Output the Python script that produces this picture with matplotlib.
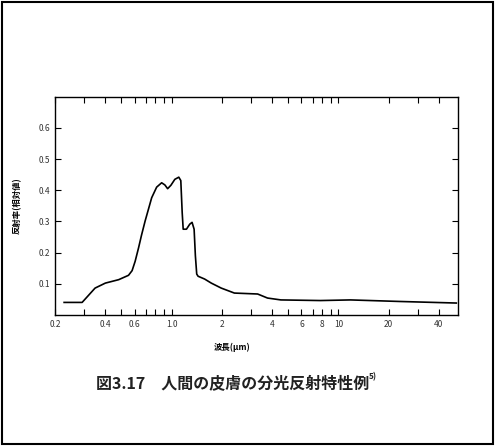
import matplotlib
matplotlib.use('Agg')
import matplotlib.pyplot as plt
from matplotlib.patches import Rectangle
import numpy as np

plt.rcParams['font.family'] = ['Noto Sans CJK JP', 'DejaVu Sans']

# wavelength (um) and reflectance
wavelength = [0.227, 0.291, 0.348, 0.401, 0.482, 0.552, 0.580, 0.605, 0.634, 0.660, 0.694,
              0.760, 0.814, 0.872, 0.912, 0.947, 0.991, 1.046, 1.105, 1.136, 1.158,
              1.174, 1.228, 1.285, 1.327, 1.365, 1.389, 1.415, 1.442, 1.578, 1.730,
              1.984, 2.38, 3.28, 3.76, 4.52, 7.8, 11.8, 23.4, 50.9]
reflectance = [0.040, 0.040, 0.086, 0.102, 0.113, 0.127, 0.142, 0.172, 0.215, 0.255, 0.301,
               0.376, 0.410, 0.424, 0.417, 0.405, 0.416, 0.435, 0.442, 0.431, 0.328,
               0.275, 0.275, 0.291, 0.297, 0.275, 0.190, 0.131, 0.124, 0.115, 0.102,
               0.086, 0.070, 0.067, 0.054, 0.048, 0.046, 0.048, 0.043, 0.038]

xticks = [0.2, 0.3, 0.4, 0.5, 0.6, 0.7, 0.8, 0.9, 1.0, 2, 3, 4, 5, 6, 7, 8, 9, 10, 20, 30, 40]
xtick_labels = ['0.2', '', '0.4', '', '0.6', '', '', '', '1.0', '2', '', '4', '',
                '6', '', '8', '', '10', '20', '', '40']
yticks = [0.1, 0.2, 0.3, 0.4, 0.5, 0.6]

fig = plt.figure(figsize=(4.95, 4.46), dpi=100)
ax = fig.add_axes([0.111, 0.294, 0.814, 0.489])

ax.plot(wavelength, reflectance, color='black', linewidth=1.2,
        solid_joinstyle='round')

ax.set_xscale('log')
ax.set_xlim(0.207, 52)
ax.set_ylim(0, 0.7)
ax.set_xticks(xticks)
ax.set_xticklabels(xtick_labels)
ax.xaxis.set_minor_locator(matplotlib.ticker.NullLocator())
ax.set_yticks(yticks)
ax.set_yticklabels([f'{v:.1f}' for v in yticks])
ax.tick_params(direction='in', length=4, width=0.8, labelsize=6,
               top=True, right=True, colors='black', labelcolor='#333333')
for s in ax.spines.values():
    s.set_linewidth(1.0)

ax.set_xlabel('波長(μm)', fontsize=6, fontweight='bold')
ax.xaxis.set_label_coords(0.44, -0.13)
ax.set_ylabel('反射率(相対値)', fontsize=6, fontweight='bold', labelpad=12)

fig.text(0.194, 0.128, '図3.17　人間の皮膚の分光反射特性例', fontsize=11.5,
         fontweight='bold', color='#222222')
fig.text(0.745, 0.150, '5)', fontsize=6, fontweight='bold', color='#222222')

# outer frame
fig.patches.append(Rectangle((0.004, 0.004), 0.992, 0.992, transform=fig.transFigure,
                             fill=False, edgecolor='black', linewidth=1.5))

plt.savefig('out.png', dpi=100)
